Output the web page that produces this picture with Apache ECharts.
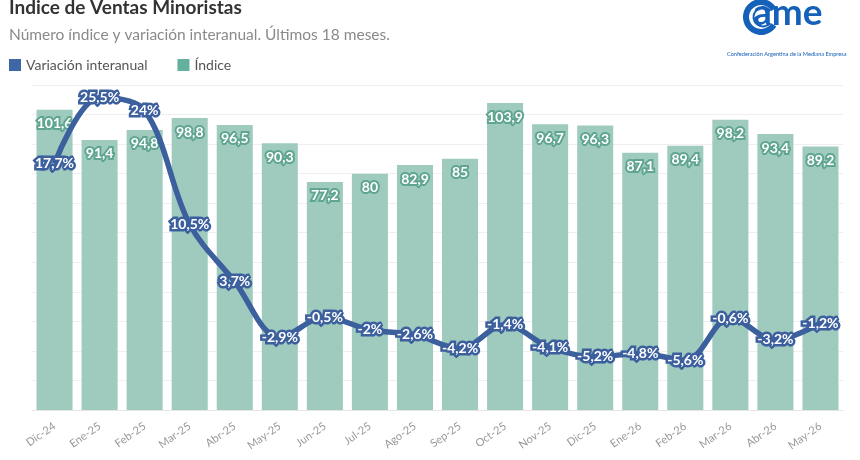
<!DOCTYPE html>
<html><head><meta charset="utf-8">
<script src="https://cdn.jsdelivr.net/npm/echarts@6/dist/echarts.min.js"></script>
<style>html,body{margin:0;padding:0;background:#fff}#c{width:860px;height:460px}</style>
</head><body><div id="c"></div>
<script>
const categories = ['Dic-24','Ene-25','Feb-25','Mar-25','Abr-25','May-25','Jun-25','Jul-25','Ago-25','Sep-25','Oct-25','Nov-25','Dic-25','Ene-26','Feb-26','Mar-26','Abr-26','May-26'];
const indice = [101.6,91.4,94.8,98.8,96.5,90.3,77.2,80,82.9,85,103.9,96.7,96.3,87.1,89.4,98.2,93.4,89.2];
const variacion = [17.7,25.5,24,10.5,3.7,-2.9,-0.5,-2,-2.6,-4.2,-1.4,-4.1,-5.2,-4.8,-5.6,-0.6,-3.2,-1.2];

const FONT = 'Lato';
const fmt = v => String(v).replace('.', ',');
const chart = echarts.init(document.getElementById('c'));
chart.setOption({
  animation: false,
  textStyle: {fontFamily: FONT},
  title: {
    text: 'Indice de Ventas Minoristas',
    subtext: 'Número índice y variación interanual. Últimos 18 meses.',
    left: 9, top: -2, padding: 0, itemGap: 10,
    textStyle: {fontFamily: FONT, fontSize: 19, fontWeight: 'bold', color: '#333'},
    subtextStyle: {fontFamily: FONT, fontSize: 15.5, color: '#8a8a8a'}
  },
  legend: {
    left: 9, top: 58, padding: 0, itemWidth: 12, itemHeight: 12, itemGap: 30, icon: 'rect',
    textStyle: {fontFamily: FONT, fontSize: 14, color: '#555'},
    data: [
      {name: 'Variación interanual', itemStyle: {color: '#3f67a8'}},
      {name: 'Índice', itemStyle: {color: '#64b09e'}}
    ]
  },
  grid: {left: 32, right: 17, top: 85, bottom: 50, containLabel: false},
  xAxis: {
    type: 'category', data: categories,
    axisLine: {lineStyle: {color: '#e6e6e6'}},
    axisTick: {alignWithLabel: true, length: 4, lineStyle: {color: '#e6e6e6'}},
    axisLabel: {rotate: 35, fontSize: 11, color: '#999', fontFamily: FONT, margin: 15}
  },
  yAxis: [
    {type: 'value', min: 0, max: 110, interval: 10, show: true,
     axisLabel: {show: false}, axisLine: {show: false}, axisTick: {show: false},
     splitLine: {lineStyle: {color: '#efefef'}}},
    {type: 'value', min: -11.5, max: 27, show: false, splitLine: {show: false}}
  ],
  graphic: [
    {type: 'sector', shape: {cx: 761, cy: 17, r: 18, r0: 12, startAngle: 0.55, endAngle: 5.75}, style: {fill: '#1560b8'}},
    {type: 'sector', shape: {cx: 763, cy: 17, r: 10.5, r0: 8.5, startAngle: 0.7, endAngle: 5.6}, style: {fill: '#1560b8'}},
    {type: 'text', left: 753, top: -5, style: {text: 'ame', font: 'bold 37px Lato', fill: '#1560b8'}},
    {type: 'text', left: 727, top: 51, style: {text: 'Confederación Argentina de la Mediana Empresa', font: '5.6px Lato', fill: '#1560b8'}}
  ],
  series: [
    {
      name: 'Índice', type: 'bar', yAxisIndex: 0, data: indice, barCategoryGap: '20%',
      itemStyle: {color: '#9fcbbf'}, z: 2,
      label: {show: true, position: 'insideTop', distance: 7, formatter: p => fmt(p.value),
        fontFamily: FONT, fontSize: 14, fontWeight: 'bold', color: '#fff',
        textBorderColor: '#5fa590', textBorderWidth: 4}
    },
    {
      name: 'Variación interanual', type: 'line', yAxisIndex: 1, data: variacion,
      smooth: 0.35, symbol: 'circle', symbolSize: 1, z: 5,
      lineStyle: {color: '#3c5f9e', width: 5.5},
      itemStyle: {color: '#3c5f9e'},
      label: {show: true, position: 'inside', formatter: p => fmt(p.value) + '%',
        fontFamily: FONT, fontSize: 14, fontWeight: 'bold', color: '#fff',
        textBorderColor: '#3c5f9e', textBorderWidth: 5}
    }
  ]
});
</script></body></html>
